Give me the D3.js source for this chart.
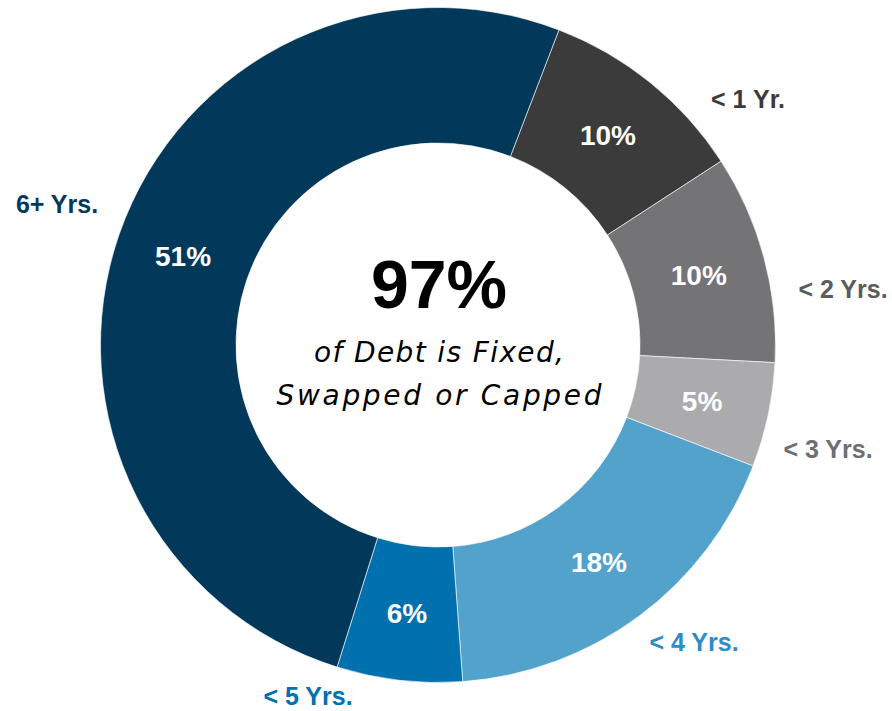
<!DOCTYPE html>
<html>
<head>
<meta charset="utf-8">
<script src="https://cdn.jsdelivr.net/npm/d3@7"></script>
<style>
  html, body { margin: 0; padding: 0; background: #ffffff; }
  svg { display: block; }
</style>
</head>
<body>
<svg id="chart" width="892" height="711"></svg>
<script>
// Debt maturity / hedge profile
const categories = ["< 1 Yr.", "< 2 Yrs.", "< 3 Yrs.", "< 4 Yrs.", "< 5 Yrs.", "6+ Yrs."];
const shares = [10, 10, 5, 18, 6, 51];
const sliceColors = ["#3b3b3b", "#747476", "#ababad", "#52a2cc", "#0070af", "#02395b"];
const nameColors = ["#3b3b3b", "#5c5c5e", "#6f6f71", "#2e8cc7", "#0070af", "#02395b"];
const headline = "97%";
const subline = ["of Debt is Fixed,", "Swapped or Capped"];

// Callout offsets for category names (text centre x, baseline y) relative to the ring centre
const nameOffsets = [[310, -237], [405, -47], [390, 113], [256, 306], [-130, 360], [-381, -132]];
// Set widths of the two italic lines under the headline
const sublineWidths = [250, 325];

const width = 892, height = 711;
const cx = 438, cy = 345;
const outerR = 337.5, innerR = 202;
const startDeg = 21;

const svg = d3.select("#chart");
const g = svg.append("g").attr("transform", `translate(${cx},${cy})`);

const rows = categories.map((c, i) => ({ name: c, value: shares[i], i }));

const pie = d3.pie()
  .sort(null)
  .value(d => d.value)
  .startAngle(startDeg * Math.PI / 180)
  .endAngle(startDeg * Math.PI / 180 + 2 * Math.PI);

const arc = d3.arc().innerRadius(innerR).outerRadius(outerR);
const labelArc = d3.arc().innerRadius(270).outerRadius(270);

const arcs = pie(rows);

g.selectAll("path.slice")
  .data(arcs)
  .join("path")
  .attr("class", "slice")
  .attr("d", arc)
  .attr("fill", d => sliceColors[d.data.i])
  .attr("stroke", "#ffffff")
  .attr("stroke-opacity", 0.6)
  .attr("stroke-width", 1);

// Percentage labels inside the ring
g.selectAll("text.pct")
  .data(arcs)
  .join("text")
  .attr("class", "pct")
  .attr("x", d => labelArc.centroid(d)[0])
  .attr("y", d => labelArc.centroid(d)[1])
  .attr("dy", "0.36em")
  .attr("text-anchor", "middle")
  .attr("font-family", "'Liberation Sans', Arial, sans-serif")
  .attr("font-weight", "bold")
  .attr("font-size", 28)
  .attr("fill", "#ffffff")
  .text(d => d3.format(".0f")(d.data.value) + "%");

// Category names around the ring
g.selectAll("text.name")
  .data(rows)
  .join("text")
  .attr("class", "name")
  .attr("x", d => nameOffsets[d.i][0])
  .attr("y", d => nameOffsets[d.i][1])
  .attr("text-anchor", "middle")
  .attr("font-family", "'Liberation Sans', Arial, sans-serif")
  .attr("font-weight", "bold")
  .attr("font-size", 25)
  .attr("fill", d => nameColors[d.i])
  .text(d => d.name);

// Centre text
g.append("text")
  .attr("x", 1)
  .attr("y", -37)
  .attr("text-anchor", "middle")
  .attr("font-family", "'Liberation Sans', Arial, sans-serif")
  .attr("font-weight", "bold")
  .attr("font-size", 68)
  .attr("fill", "#000000")
  .text(headline);

g.selectAll("text.sub")
  .data(subline)
  .join("text")
  .attr("class", "sub")
  .attr("x", 1)
  .attr("y", (d, i) => 17 + i * 43)
  .attr("text-anchor", "middle")
  .attr("font-family", "'DejaVu Sans', sans-serif")
  .attr("font-style", "italic")
  .attr("font-size", 28)
  .attr("textLength", (d, i) => sublineWidths[i])
  .attr("lengthAdjust", "spacing")
  .attr("fill", "#000000")
  .text(d => d);
</script>
</body>
</html>
